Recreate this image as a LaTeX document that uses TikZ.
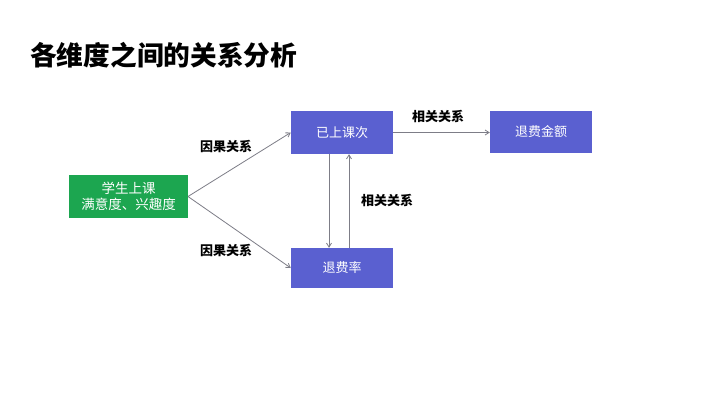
\documentclass[tikz,border=0pt]{standalone}
\usepackage{fontspec}
\newfontfamily\cjk{Noto Sans CJK SC}
\usetikzlibrary{arrows.meta}
\definecolor{boxblue}{RGB}{90,96,208}
\definecolor{boxgreen}{RGB}{28,166,80}
\definecolor{arrgray}{RGB}{125,125,135}
\tikzset{
  bluebox/.style={fill=boxblue, draw=none, text=white, font=\cjk\fontsize{13}{15}\selectfont, minimum width=102pt, minimum height=43pt, inner sep=0pt, align=center},
  greenbox/.style={fill=boxgreen, draw=none, text=white, font=\cjk\fontsize{13.5}{16}\selectfont, minimum width=119pt, minimum height=43pt, inner sep=0pt, align=center},
  conn/.style={draw=arrgray, line width=0.8pt, -{Straight Barb[length=4pt,width=5pt]}},
  lbl/.style={font=\cjk\bfseries\fontsize{13}{15}\selectfont, text=black, inner sep=0pt}
}
\begin{document}
\begin{tikzpicture}[x=1pt,y=-1pt]
\useasboundingbox[fill=white] (0,0) rectangle (720,405);
\node[font=\cjk\bfseries\fontsize{26.7}{30}\selectfont, anchor=west, inner sep=0pt] (title) at (30,55) {各维度之间的关系分析};
\node[greenbox] (g) at (128.5,196.5) {学生上课\\满意度、兴趣度};
\node[bluebox] (a) at (342,132.5) {已上课次};
\node[bluebox, minimum height=40pt] (r) at (342,268) {退费率};
\node[bluebox, minimum height=42pt] (m) at (541,132) {退费金额};
\coordinate (gs) at (188,196.5);
\draw[conn] (gs) -- (a.west);
\draw[conn] (gs) -- (r.west);
\draw[conn] (a.east) -- (m.west |- a.east);
\draw[conn] ([xshift=-13pt]a.south) -- ([xshift=-13pt]r.north);
\draw[conn] ([xshift=7pt]r.north) -- ([xshift=7pt]a.south);
\node[lbl] (l1) at (226,146) {因果关系};
\node[lbl] (l2) at (226,250) {因果关系};
\node[lbl] (l3) at (387,200) {相关关系};
\node[lbl] (l4) at (438,116) {相关关系};
\end{tikzpicture}
\end{document}
